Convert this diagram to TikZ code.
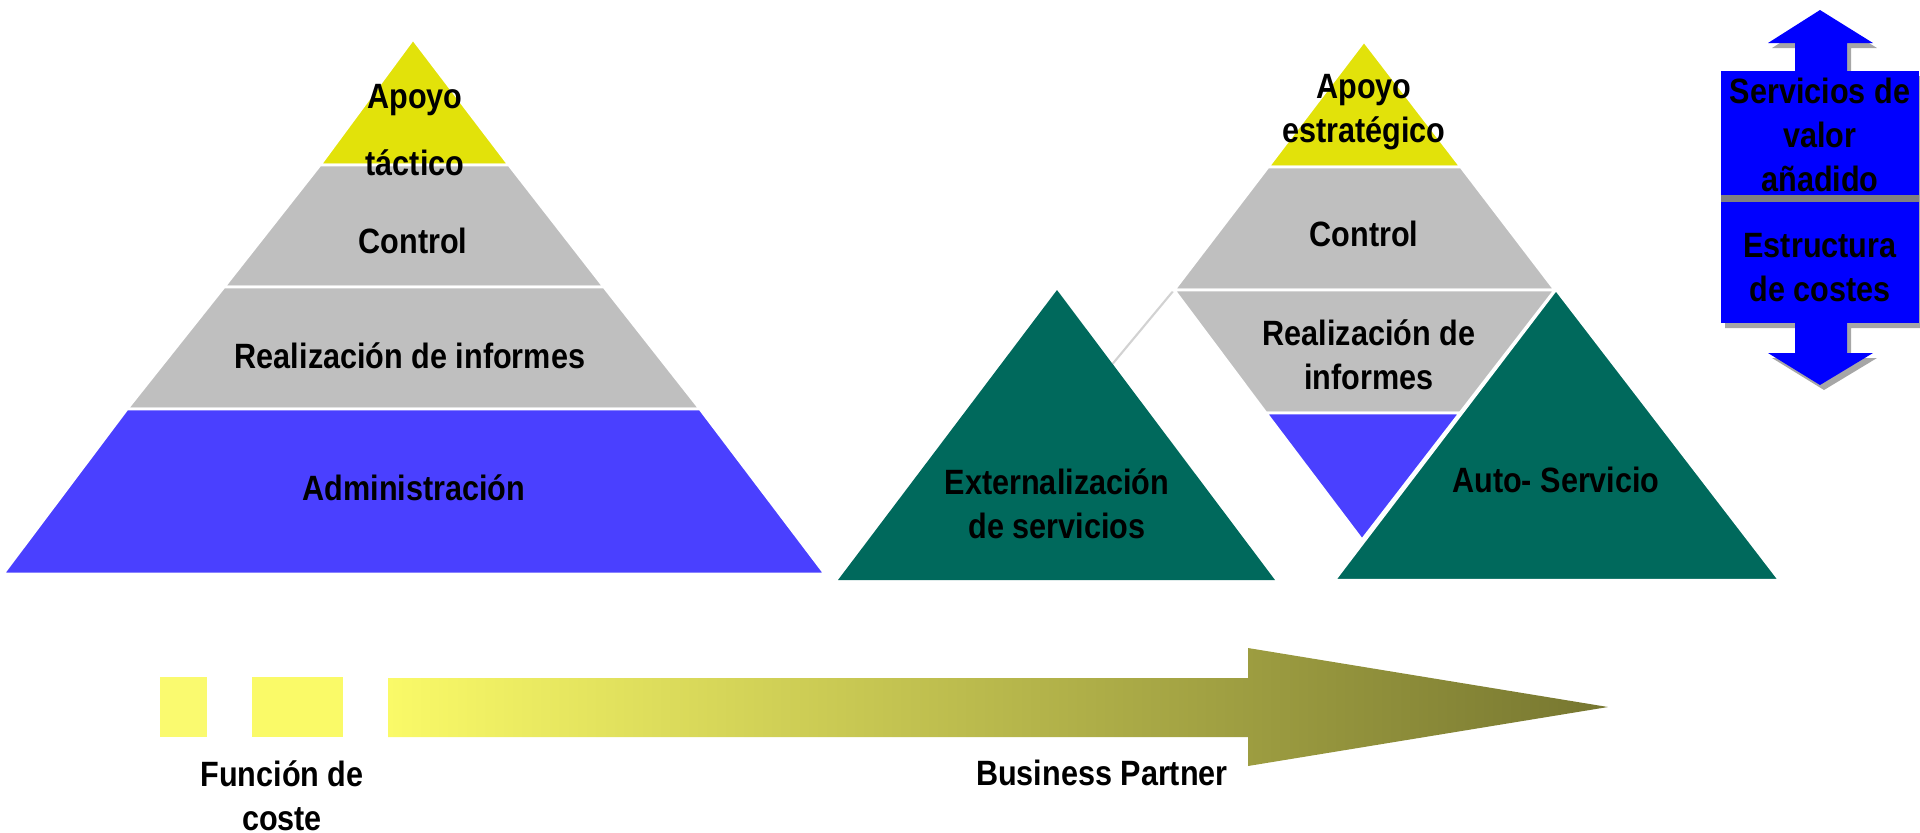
\documentclass[tikz,border=0pt]{standalone}
\usepackage{fontspec}
\setmainfont{Liberation Sans}[FakeStretch=0.87]
\usepackage{tikz}

\definecolor{tipyellow}{RGB}{226,226,10}
\definecolor{bandgray}{RGB}{191,191,191}
\definecolor{adminblue}{RGB}{74,64,255}
\definecolor{servgreen}{RGB}{0,105,92}
\definecolor{boxblue}{RGB}{0,0,255}
\definecolor{arrowlight}{RGB}{250,250,104}
\definecolor{arrowdark}{RGB}{118,118,48}

\begin{document}
\begin{tikzpicture}[x=0.01cm,y=-0.01cm,
        bandtext/.style={font=\bfseries\fontsize{10}{12.5}\selectfont,align=center,inner sep=0pt},
        band/.style={draw=white,line width=0.8pt},
        boxshadow/.style={fill=black,opacity=0.35}]

    \useasboundingbox (0,0) rectangle (1920,832);

    % left pyramid
    \fill[band,fill=tipyellow] (413,39) -- (509,165) -- (320,165) -- cycle;
    \fill[band,fill=bandgray] (320,165) -- (509,165) -- (604,287) -- (224,287) -- cycle;
    \fill[band,fill=bandgray] (224,287) -- (604,287) -- (700,409) -- (127,409) -- cycle;
    \fill[band,fill=adminblue] (127,409) -- (700,409) -- (825,574) -- (3,574) -- cycle;

    \node[bandtext,font=\bfseries\fontsize{10}{19}\selectfont] (tactico) at (415,130) {Apoyo\\táctico};
    \node[bandtext] (control1) at (413,241) {Control};
    \node[bandtext] (informes1) at (410,356) {Realización de informes};
    \node[bandtext] (admin) at (414,488) {Administración};

    % right pyramid
    \draw[gray!35,line width=0.6pt] (1174,290) -- (1095,385);
    \fill[band,fill=tipyellow] (1364,41) -- (1461,167) -- (1268,167) -- cycle;
    \fill[band,fill=bandgray] (1268,167) -- (1461,167) -- (1555,290) -- (1174,290) -- cycle;
    \fill[band,fill=bandgray] (1174,290) -- (1555,290) -- (1460,413) -- (1266,413) -- cycle;
    \fill[band,fill=adminblue] (1266,413) -- (1460,413) -- (1362,540) -- cycle;

    \fill[servgreen] (1057,290) -- (1275,580) -- (838,580) -- cycle;
    \filldraw[servgreen,draw=white,line width=0.6pt] (1556,290) -- (1779,580) -- (1335,580) -- cycle;

    \node[bandtext] (estrategico) at (1364,112) {Apoyo\\estratégico};
    \node[bandtext] (control2) at (1364,234) {Control};
    \node[bandtext] (informes2) at (1369,355) {Realización de\\informes};
    \node[bandtext] (externa) at (1057,504) {Externalización\\de servicios};
    \node[bandtext] (auto) at (1556,480) {Auto- Servicio};

    % value arrow
    \begin{scope}[shift={(4,5)}]
        \fill[boxshadow] (1820,10) -- (1873,43) -- (1847,43) -- (1847,71) -- (1919,71)
            -- (1919,323) -- (1847,323) -- (1847,353) -- (1873,353) -- (1820,385)
            -- (1768,353) -- (1795,353) -- (1795,323) -- (1721,323) -- (1721,71)
            -- (1795,71) -- (1795,43) -- (1768,43) -- cycle;
    \end{scope}
    \fill[boxblue] (1820,10) -- (1873,43) -- (1847,43) -- (1847,71) -- (1795,71) -- (1795,43) -- (1768,43) -- cycle;
    \fill[boxblue] (1721,71) rectangle (1919,195);
    \fill[gray] (1721,195) rectangle (1919,202);
    \fill[boxblue] (1721,202) rectangle (1919,323);
    \fill[boxblue] (1795,323) -- (1847,323) -- (1847,353) -- (1873,353) -- (1820,385) -- (1768,353) -- (1795,353) -- cycle;

    \node[bandtext] (valor) at (1820,135) {Servicios de\\valor\\añadido};
    \node[bandtext] (costes) at (1820,268) {Estructura\\de costes};

    % bottom arrow
    \fill[arrowlight!95!white] (160,677) rectangle (207,737);
    \fill[arrowlight] (252,677) rectangle (343,737);
    \shade[left color=arrowlight, right color=arrowdark]
        (388,678) -- (1248,678) -- (1248,648) -- (1608,707) -- (1248,766)
        -- (1248,737) -- (388,737) -- cycle;

    \node[bandtext] (coste) at (282,796) {Función de\\coste};
    \node[bandtext] (partner) at (1102,773) {Business Partner};
\end{tikzpicture}
\end{document}
